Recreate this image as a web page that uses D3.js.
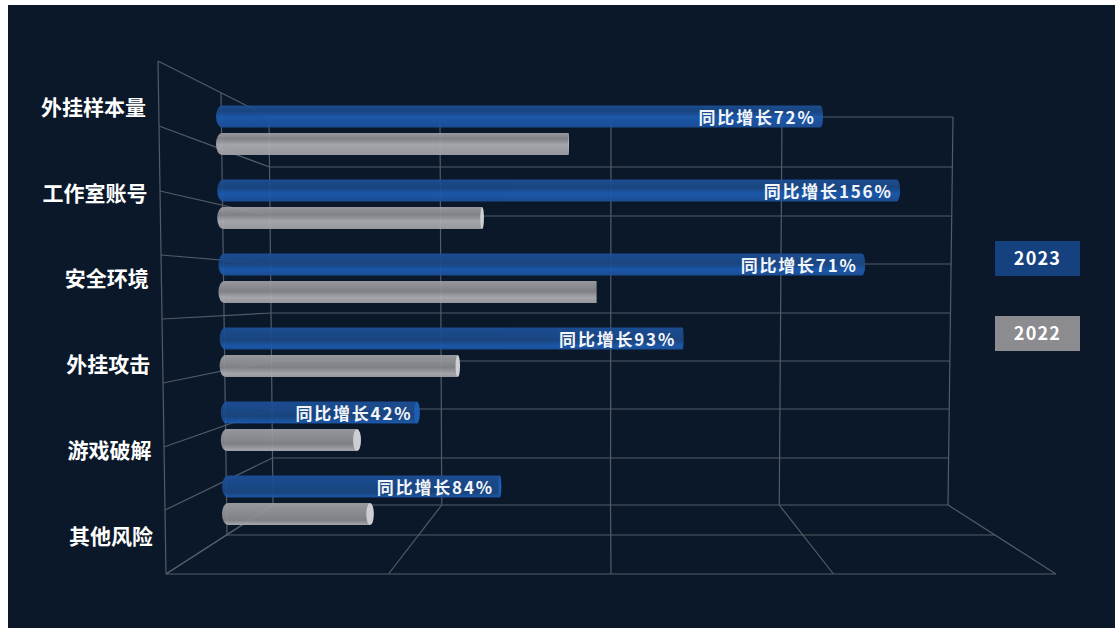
<!DOCTYPE html>
<html lang="zh">
<head>
<meta charset="utf-8">
<title>安全风险同比增长</title>
<script src="https://cdn.jsdelivr.net/npm/d3@7/dist/d3.min.js"></script>
<style>
  html, body { margin: 0; padding: 0; background: #fff; overflow: hidden; }
  svg { display: block; font-family: "Noto Sans CJK SC", "Noto Sans", sans-serif; }
</style>
</head>
<body>
<svg id="chart" width="1115" height="630"></svg>
<script>
// Chart data
const categories = ["外挂样本量", "工作室账号", "安全环境", "外挂攻击", "游戏破解", "其他风险"];
const values2022 = [51.6, 39.0, 55.3, 35.15, 20.5, 22.2];
const growthPct = [72, 156, 71, 93, 42, 84];
const seriesNames = ["2023", "2022"];
const valueTicks = [0, 25, 50, 75, 100];

const svg = d3.select("#chart");
const defs = svg.append("defs");

// Panel
svg.append("rect").attr("x", 8).attr("y", 5).attr("width", 1107).attr("height", 623).attr("fill", "#0a1829");

// Box geometry
const wallTop = 117, wallBottom = 505, floorFront = 574, floorMid = 535;
const backRowY = [117, 167, 216, 264, 313, 361, 409, 458, 505];
const frontRowY = [61, 126, 191, 255, 319, 383, 447, 510, 574];
const backLeft = d3.scaleLinear().domain([wallTop, wallBottom]).range([269, 273]);
const backRight = d3.scaleLinear().domain([wallTop, wallBottom]).range([953, 948]);
const frontLeft = d3.scaleLinear().domain([61, 574]).range([158, 166]);
const wallTopX = d3.scalePoint().domain(valueTicks).range([269, 953]);
const wallBottomX = d3.scalePoint().domain(valueTicks).range([273, 948]);
const floorFrontX = d3.scalePoint().domain(valueTicks).range([166, 1056]);

const grid = svg.append("g")
  .attr("fill", "none")
  .attr("stroke", "#535c66")
  .attr("stroke-width", 1.2);
const segment = (x1, y1, x2, y2) =>
  grid.append("line").attr("x1", x1).attr("y1", y1).attr("x2", x2).attr("y2", y2);

// Back wall
backRowY.forEach(y => segment(backLeft(y), y, backRight(y), y));
valueTicks.forEach(t => segment(wallTopX(t), wallTop, wallBottomX(t), wallBottom));
// Side wall
frontRowY.forEach((y, i) => segment(frontLeft(y), y, backLeft(backRowY[i]), backRowY[i]));
segment(frontLeft(61), 61, frontLeft(574), 574);
segment(221, 93, 227, floorMid);
// Floor
segment(166, floorFront, 1056, floorFront);
segment(226, floorMid, 995, floorMid);
valueTicks.forEach(t => segment(wallBottomX(t), wallBottom, floorFrontX(t), floorFront));

// Bar scales
const pxPerUnit = 6.84;
const x = d3.scaleLinear().domain([0, 100]).range([0, 100 * pxPerUnit]);
const rowY = d3.scalePoint().domain(categories).range([105.5, 475.5]);
const rowX = d3.scalePoint().domain(categories).range([216, 222]);
const labelY = d3.scalePoint().domain(categories).range([107.5, 536]);
const labelX = d3.scalePoint().domain(categories).range([146, 153]);
const barH = 22, grayOffset = 27.6, leftRx = 6;
const shadePos = d3.scalePoint().domain(categories).range([0.25, 0.78]);

// End caps are seen from the side: the vanishing point sits near x = 590,
// so bars ending short of it show their lit face, longer ones just round off.
const vanishX = 590;
const faceRx = d3.scaleLinear().domain([vanishX, 360]).range([0, 4]).clamp(true);
const roundRx = d3.scaleLinear().domain([vanishX, 900]).range([0, 3.5]).clamp(true);

const palette = {
  blue: { edge: "#1d519b", dark: "#1b4884", light: "#1c5cb2", cap: "#1f63bd" },
  gray: { edge: "#a2a2a6", dark: "#89898d", light: "#b0b0b4", cap: "#dcdcdf" }
};

// The darker band on each cylinder drifts with the row's viewing angle
function cylinderGradient(id, tone, pos) {
  const g = defs.append("linearGradient").attr("id", id)
    .attr("x1", 0).attr("y1", 0).attr("x2", 0).attr("y2", 1);
  [[0, tone.edge], [pos, tone.dark], [Math.min(pos + 0.28, 0.97), tone.light], [1, tone.edge]]
    .forEach(([o, c]) => g.append("stop").attr("offset", o).attr("stop-color", c));
}

function drawBar(parent, x0, y, value, tone, gradId) {
  const xEnd = x0 + x(value);
  const ry = barH / 2;
  const round = roundRx(xEnd), face = faceRx(xEnd);
  const bodyEnd = xEnd - round - face;
  const rightArc = round > 0 ? `A${round},${ry} 0 0 1 ${bodyEnd},${y + barH}` : `L${bodyEnd},${y + barH}`;
  parent.append("path")
    .attr("d", `M${x0 + leftRx},${y}L${bodyEnd},${y}${rightArc}L${x0 + leftRx},${y + barH}A${leftRx},${ry} 0 0 1 ${x0 + leftRx},${y}Z`)
    .attr("fill", `url(#${gradId})`);
  if (face > 0) {
    parent.append("ellipse").attr("cx", bodyEnd).attr("cy", y + ry)
      .attr("rx", face).attr("ry", ry).attr("fill", tone.cap);
  }
}

categories.forEach((c, i) => {
  const row = svg.append("g").attr("opacity", 0.93);
  const blueId = `cyl-blue-${i}`, grayId = `cyl-gray-${i}`;
  cylinderGradient(blueId, palette.blue, shadePos(c));
  cylinderGradient(grayId, palette.gray, shadePos(c));
  const v2023 = values2022[i] * (1 + growthPct[i] / 100);
  const y0 = rowY(c), x0 = rowX(c);
  drawBar(row, x0, y0, v2023, palette.blue, blueId);
  drawBar(row, x0, y0 + grayOffset, values2022[i], palette.gray, grayId);

  // Growth label sits inside the tip of the 2023 bar
  svg.append("text")
    .attr("x", x0 + x(v2023) - 7.5)
    .attr("y", y0 + barH / 2 + 1)
    .attr("dy", "0.36em")
    .attr("text-anchor", "end")
    .attr("fill", "#f2f5fa")
    .attr("font-size", 17)
    .attr("font-weight", 700)
    .attr("letter-spacing", 1.8)
    .text(`同比增长${growthPct[i]}%`);

  svg.append("text")
    .attr("x", labelX(c))
    .attr("y", labelY(c))
    .attr("dy", "0.36em")
    .attr("text-anchor", "end")
    .attr("fill", "#ffffff")
    .attr("font-size", 21)
    .attr("font-weight", 700)
    .text(c);
});

// Legend
const legendY = d3.scalePoint().domain(seriesNames).range([241, 316]);
const legendFill = d3.scaleOrdinal().domain(seriesNames).range(["#15427f", "#8b8b90"]);
const legend = svg.append("g").selectAll("g").data(seriesNames).join("g")
  .attr("transform", d => `translate(995,${legendY(d)})`);
legend.append("rect").attr("width", 85).attr("height", 35).attr("fill", d => legendFill(d));
legend.append("text")
  .attr("x", 42.5).attr("y", 17.5).attr("dy", "0.36em")
  .attr("text-anchor", "middle")
  .attr("fill", "#ffffff")
  .attr("font-size", 18)
  .attr("font-weight", 700)
  .attr("letter-spacing", 1.2)
  .text(d => d);
</script>
</body>
</html>
